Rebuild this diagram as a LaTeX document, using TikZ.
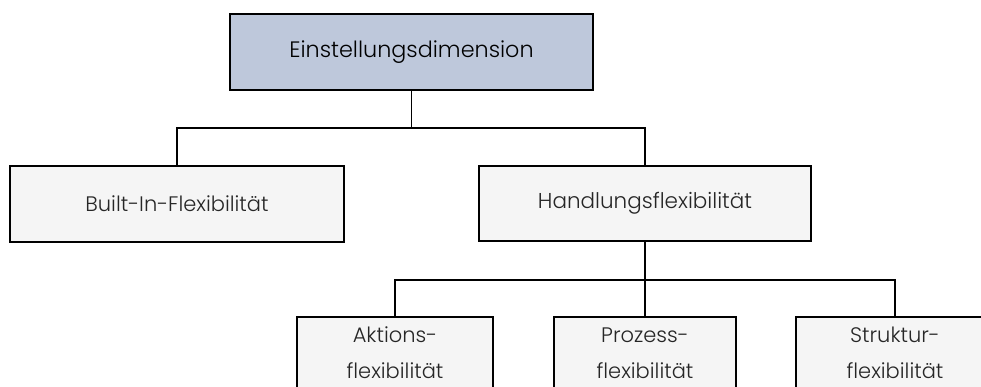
\documentclass[tikz,border=0pt]{standalone}
\usepackage{fontspec}
\setmainfont{Poppins}[UprightFont=* Light]
\definecolor{topfill}{HTML}{BEC8DB}
\definecolor{boxfill}{HTML}{F5F5F5}
\tikzset{
  box/.style={draw=black, line width=1.6pt, fill=boxfill, inner sep=0pt, align=center, text=black!85},
  topbox/.style={box, fill=topfill, text=black},
  conn/.style={draw=black, line width=1.6pt},
}
\begin{document}
\begin{tikzpicture}[x=1pt,y=-1pt]
\useasboundingbox (0,0) rectangle (981,386);
\clip (0,0) rectangle (981,386);
\fill[white] (0,0) rectangle (981,386);
\node[topbox, minimum width=363pt, minimum height=76pt, font=\fontsize{22.3}{28}\selectfont] (top) at (411.5,52) {Einstellungsdimension};
\node[box, minimum width=334pt, minimum height=76pt, font=\fontsize{21}{26}\selectfont] (bif) at (177,204) {Built-In-Flexibilität};
\node[box, minimum width=332pt, minimum height=75pt, font=\fontsize{21.5}{26}\selectfont] (hf) at (645,203.5) {Handlungsflexibilität};
\node[box, minimum width=196pt, minimum height=72pt, font=\fontsize{21}{36}\selectfont] (af) at (395,353) {Aktions-\\flexibilität};
\node[box, minimum width=182pt, minimum height=72pt, font=\fontsize{21}{36}\selectfont] (pf) at (645,353) {Prozess-\\flexibilität};
\node[box, minimum width=198pt, minimum height=72pt, font=\fontsize{21}{36}\selectfont] (sf) at (895,353) {Struktur-\\flexibilität};
\coordinate (busA) at (411.5,128);
\coordinate (busB) at (645,280);
\draw[conn] (top.south) -- (busA);
\draw[conn] (bif.north) |- (busA) -| (hf.north);
\draw[conn] (hf.south) -- (busB);
\draw[conn] (af.north) |- (busB) -| (sf.north);
\draw[conn] (pf.north) -- (busB);
\end{tikzpicture}
\end{document}
